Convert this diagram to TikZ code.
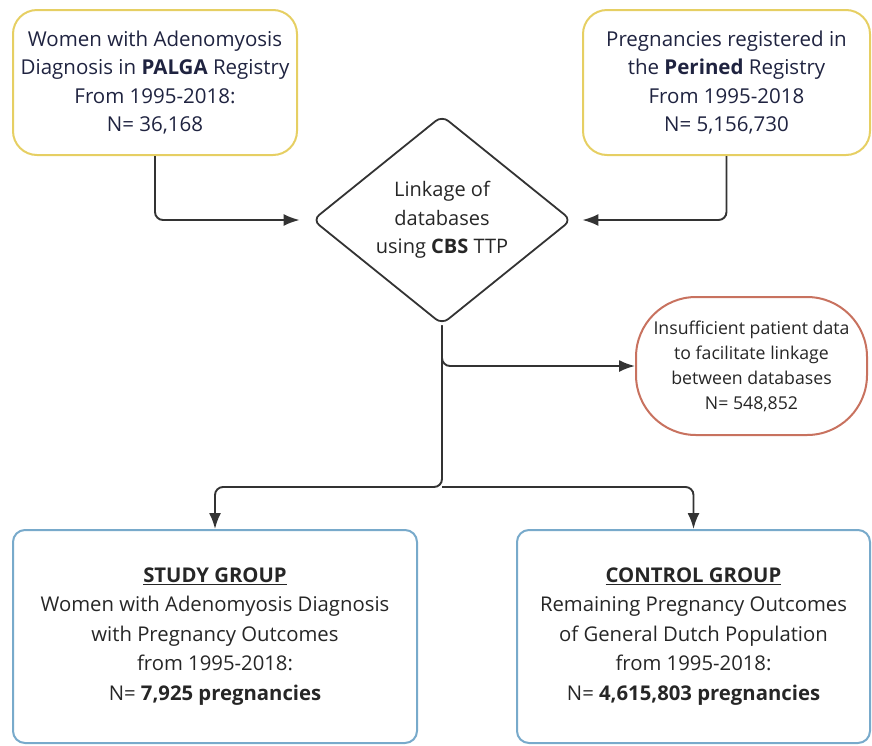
\documentclass[tikz,border=0pt]{standalone}
\usepackage{fontspec}
\setmainfont{Open Sans}
\usetikzlibrary{shapes.geometric, arrows.meta}

\definecolor{boxyellow}{HTML}{E6CF63}
\definecolor{boxred}{HTML}{C8725F}
\definecolor{boxblue}{HTML}{78AACB}
\definecolor{inktop}{HTML}{1F2340}
\definecolor{inkbot}{HTML}{262626}
\definecolor{wire}{HTML}{333333}

\tikzset{
    sourcebox/.style={draw=boxyellow, line width=2pt, rounded corners=24pt, align=center,
        minimum height=145pt, inner sep=0pt, text=inktop, font=\fontsize{20.5}{28.5}\selectfont},
    linkbox/.style={draw=wire, line width=1.8pt, diamond, rounded corners=8pt, align=center,
        minimum width=259pt, minimum height=164pt, inner sep=0pt, text=inkbot,
        font=\fontsize{20}{28.3}\selectfont},
    lossbox/.style={draw=boxred, line width=2pt, rounded corners=60pt, align=center,
        minimum width=231pt, minimum height=138pt, inner sep=0pt, text=inkbot,
        font=\fontsize{17.7}{25}\selectfont},
    groupbox/.style={draw=boxblue, line width=2pt, rounded corners=12pt, align=center,
        minimum height=213pt, inner sep=0pt, text=inkbot, font=\fontsize{20.3}{29.5}\selectfont},
    conn/.style={draw=wire, line width=1.9pt, rounded corners=8pt,
        -{Latex[length=16pt, width=12pt]}}
}

\begin{document}
\begin{tikzpicture}[x=1pt, y=-1pt]
    \useasboundingbox (0,0) rectangle (872,745);

    \node[sourcebox, minimum width=284pt] (palga) at (155,82.5)
        {Women with Adenomyosis\\Diagnosis in \textbf{PALGA} Registry\\From 1995-2018:\\N= 36,168};
    \node[sourcebox, minimum width=287pt] (perined) at (726.5,82.5)
        {Pregnancies registered in\\the \textbf{Perined} Registry\\From 1995-2018\\N= 5,156,730};

    \node[linkbox] (link) at (442,220) {Linkage of\\databases\\using \textbf{CBS} TTP};

    \node[lossbox] (loss) at (751.5,366)
        {Insufficient patient data\\to facilitate linkage\\between databases\\N= 548,852};

    \node[groupbox, minimum width=404pt] (study) at (215,636.5)
        {\underline{\textbf{STUDY GROUP}}\\Women with Adenomyosis Diagnosis\\with Pregnancy Outcomes\\from 1995-2018:\\N= \textbf{7,925 pregnancies}};
    \node[groupbox, minimum width=353pt] (control) at (693.5,636.5)
        {\underline{\textbf{CONTROL GROUP}}\\Remaining Pregnancy Outcomes\\of General Dutch Population\\from 1995-2018:\\N= \textbf{4,615,803 pregnancies}};

    \coordinate (fork) at (442,487);

    \draw[conn, shorten >=12pt] (palga.south) |- (link.west);
    \draw[conn, shorten >=10pt] (perined.south) |- (link.east);
    \draw[conn] (link.south) |- (loss.west);
    \draw[conn] (link.south) -- (fork) -| (study.north);
    \draw[conn] (fork) -| (control.north);
\end{tikzpicture}
\end{document}
